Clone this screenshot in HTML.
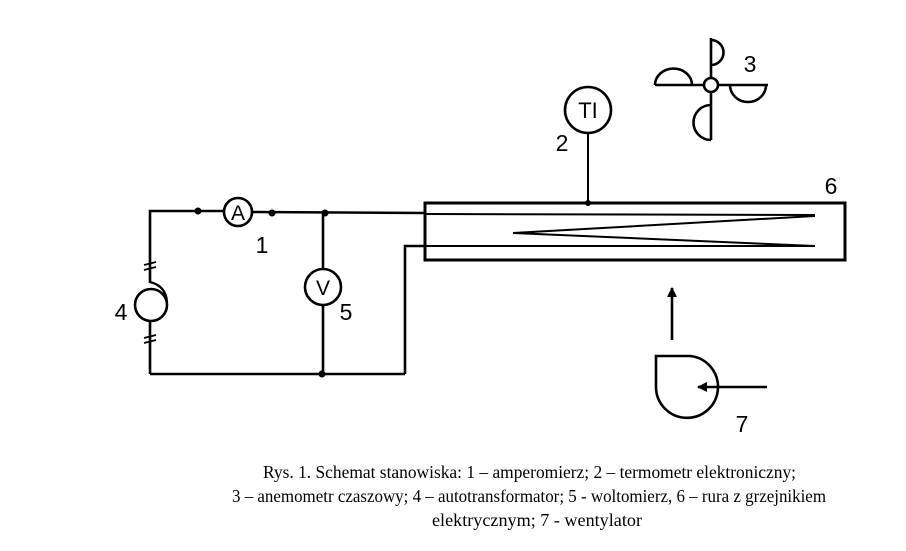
<!DOCTYPE html>
<html><head><meta charset="utf-8"><style>
html,body{margin:0;padding:0;background:#fff;}
svg{display:block}
</style></head><body>
<svg width="906" height="551" viewBox="0 0 906 551" xmlns="http://www.w3.org/2000/svg">
<defs>
<marker id="ah" markerWidth="10" markerHeight="12" refX="9" refY="6" orient="auto" markerUnits="userSpaceOnUse"><path d="M0,1 L10,6 L0,11 z" fill="#000"/></marker>
</defs>
<g fill="none" stroke="#000" stroke-width="2.6">
<polyline points="150,270 150,211 224,211"/>
<line x1="252" y1="212" x2="425" y2="213"/>
<line x1="150" y1="283" x2="150" y2="270"/>
<line x1="150" y1="322" x2="150" y2="374"/>
<line x1="150" y1="374" x2="405" y2="374"/>
<polyline points="405,374 405,246 425,246"/>
<circle cx="238" cy="212" r="14"/>
<line x1="323" y1="213" x2="323" y2="269"/>
<line x1="323" y1="305" x2="323" y2="374"/>
<circle cx="323" cy="287" r="18"/>
<circle cx="151" cy="305" r="16"/>
<path d="M150,282 Q166,286 167,302" stroke-width="2.2"/>
<g stroke-width="1.8">
<line x1="144" y1="265" x2="156" y2="262"/><line x1="144" y1="270" x2="156" y2="267"/>
<line x1="144" y1="338" x2="156" y2="335"/><line x1="144" y1="343" x2="156" y2="340"/>
</g>
<rect x="425" y="203" width="420" height="57" stroke-width="3"/>
<line x1="425" y1="214" x2="815" y2="215" stroke-width="2"/>
<line x1="425" y1="246" x2="815" y2="246" stroke-width="2"/>
<polyline points="815,216 513,233 815,246" stroke-width="2"/>
<circle cx="588" cy="110" r="23"/>
<line x1="588" y1="133" x2="588" y2="203" stroke-width="2"/>
<line x1="711" y1="38" x2="711" y2="140"/>
<line x1="655" y1="85" x2="768" y2="85"/>
<path d="M711,40 A12,12 0 0 1 711,65"/>
<path d="M655,85 A18,16 0 0 1 692,85"/>
<path d="M730,85 A18,17 0 0 0 766,85"/>
<path d="M711,105 A17,17 0 0 0 711,140"/>
<circle cx="711" cy="85" r="7" fill="#fff"/>
<path d="M690,356 L656,356 L656,387 A31,31 0 1 0 690,356 Z"/>
<line x1="767" y1="387" x2="698" y2="387" marker-end="url(#ah)"/>
<line x1="672" y1="340" x2="672" y2="288" marker-end="url(#ah)"/>
</g>
<g fill="#000">
<circle cx="198" cy="211" r="3.5"/><circle cx="272" cy="213" r="3.5"/>
<circle cx="325" cy="213" r="3.5"/><circle cx="322" cy="374" r="3.5"/>
<circle cx="588" cy="203" r="3"/>
</g>
<g font-family="'Liberation Sans',sans-serif" font-size="23" fill="#000" text-anchor="middle">
<text x="238" y="220" font-size="21">A</text>
<text x="323" y="295" font-size="21">V</text>
<text x="588" y="118" font-size="22">TI</text>
<text x="262" y="253">1</text>
<text x="346" y="320">5</text>
<text x="121" y="320">4</text>
<text x="562" y="151">2</text>
<text x="750" y="72">3</text>
<text x="831" y="194">6</text>
<text x="742" y="432">7</text>
</g>
<g font-family="'Liberation Serif',serif" font-size="18" fill="#000">
<text x="263" y="478" textLength="533" lengthAdjust="spacingAndGlyphs">Rys. 1. Schemat stanowiska: 1 – amperomierz; 2 – termometr elektroniczny;</text>
<text x="232" y="502" textLength="594" lengthAdjust="spacingAndGlyphs">3 – anemometr czaszowy; 4 – autotransformator; 5 -  woltomierz, 6 – rura z grzejnikiem</text>
<text x="432" y="526" textLength="210" lengthAdjust="spacingAndGlyphs">elektrycznym; 7 - wentylator</text>
</g>
</svg>
</body></html>
